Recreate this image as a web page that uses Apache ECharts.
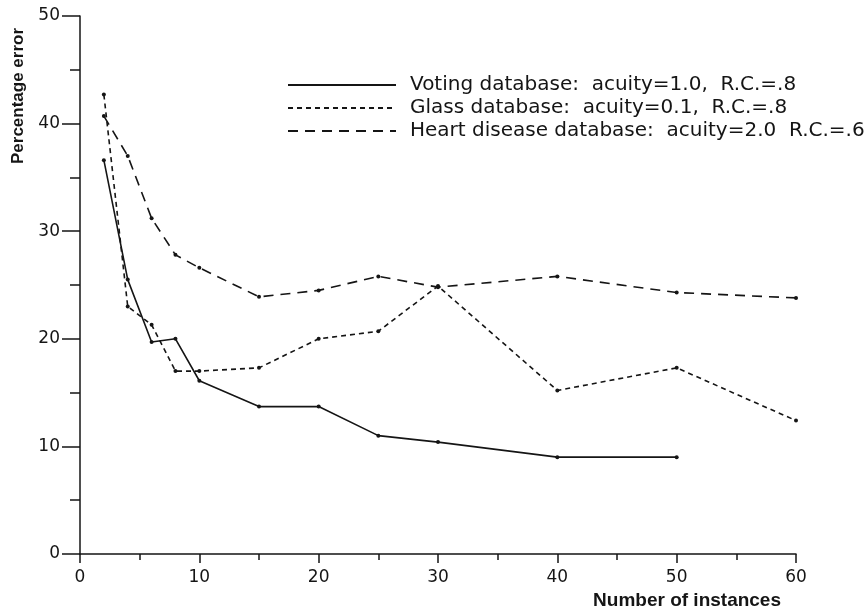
<!DOCTYPE html>
<html>
<head>
<meta charset="utf-8">
<script src="https://cdn.jsdelivr.net/npm/echarts@6/dist/echarts.min.js"></script>
<style>
	html, body { margin: 0; padding: 0; background: #fff; }
	#chart { width: 867px; height: 614px; }
</style>
</head>
<body>
<div id="chart"></div>
<script>
// 横轴：实例数
var instances = [2, 4, 6, 8, 10, 15, 20, 25, 30, 40, 50, 60];
// 各数据库的百分比误差
var votingError = [36.6, 25.5, 19.7, 20.0, 16.1, 13.7, 13.7, 11.0, 10.4, 9.0, 9.0];
var glassError = [42.7, 23.0, 21.3, 17.0, 17.0, 17.3, 20.0, 20.7, 24.9, 15.2, 17.3, 12.4];
var heartError = [40.7, 37.0, 31.2, 27.8, 26.6, 23.9, 24.5, 25.8, 24.8, 25.8, 24.3, 23.8];
var seriesNames = [
	'Voting database:  acuity=1.0,  R.C.=.8',
	'Glass database:  acuity=0.1,  R.C.=.8',
	'Heart disease database:  acuity=2.0  R.C.=.6'
];
var xTicks = [0, 10, 20, 30, 40, 50, 60];
var yTicks = [0, 10, 20, 30, 40, 50];

var ink = '#151515';

/**
 * 把x和y数组拼成点
 */
function toPoints(ys){
	var arr = [];
	for (var i = 0; i < ys.length; i++) {
		arr.push([instances[i], ys[i]]);
	}
	return arr;
}

function makeSeries(name, ys, dash){
	return {
		name : name,
		type : 'line',
		data : toPoints(ys),
		symbol : 'circle',
		symbolSize : 4,
		itemStyle : { color : ink },
		lineStyle : { color : ink, width : 1.6, type : dash },
		animation : false
	};
}

var myChart = echarts.init(document.getElementById('chart'));
var option = {
	backgroundColor : '#fff',
	grid : {
		left : 80,
		right : 71,
		top : 16,
		bottom : 60
	},
	legend : {
		orient : 'vertical',
		left : 282,
		top : 70,
		itemWidth : 108,
		itemHeight : 18,
		itemGap : 3,
		itemStyle : { opacity : 0 },
		textStyle : {
			fontFamily : 'DejaVu Sans',
			fontSize : 20,
			color : ink,
			padding : [0, 0, 0, 9]
		},
		data : seriesNames
	},
	xAxis : {
		type : 'value',
		min : xTicks[0],
		max : xTicks[xTicks.length - 1],
		interval : 10,
		splitLine : { show : false },
		axisLine : { lineStyle : { color : ink, width : 1.5 } },
		axisTick : { length : 9, lineStyle : { color : ink, width : 1.5 } },
		minorTick : { show : true, splitNumber : 2, length : 6, lineStyle : { color : ink, width : 1.5 } },
		axisLabel : {
			margin : 15,
			fontFamily : 'DejaVu Sans',
			fontSize : 17,
			color : ink
		}
	},
	yAxis : {
		type : 'value',
		min : yTicks[0],
		max : yTicks[yTicks.length - 1],
		interval : 10,
		splitLine : { show : false },
		axisLine : { show : true, lineStyle : { color : ink, width : 1.5 } },
		axisTick : { show : true, length : 18, lineStyle : { color : ink, width : 1.5 } },
		minorTick : { show : true, splitNumber : 2, length : 10, lineStyle : { color : ink, width : 1.5 } },
		axisLabel : {
			margin : 20,
			fontFamily : 'DejaVu Sans',
			fontSize : 17,
			color : ink
		}
	},
	graphic : [
		{
			type : 'text',
			x : 18,
			y : 96,
			rotation : Math.PI / 2,
			style : {
				text : 'Percentage error',
				font : 'bold 17px "Liberation Sans"',
				fill : ink,
				align : 'center',
				verticalAlign : 'middle'
			}
		},
		{
			type : 'text',
			x : 781,
			y : 601,
			style : {
				text : 'Number of instances',
				font : 'bold 19px "Liberation Sans"',
				fill : ink,
				align : 'right',
				verticalAlign : 'middle'
			}
		}
	],
	series : [
		makeSeries(seriesNames[0], votingError, 'solid'),
		makeSeries(seriesNames[1], glassError, [5, 4]),
		makeSeries(seriesNames[2], heartError, [10, 7])
	]
};
myChart.setOption(option);
</script>
</body>
</html>
